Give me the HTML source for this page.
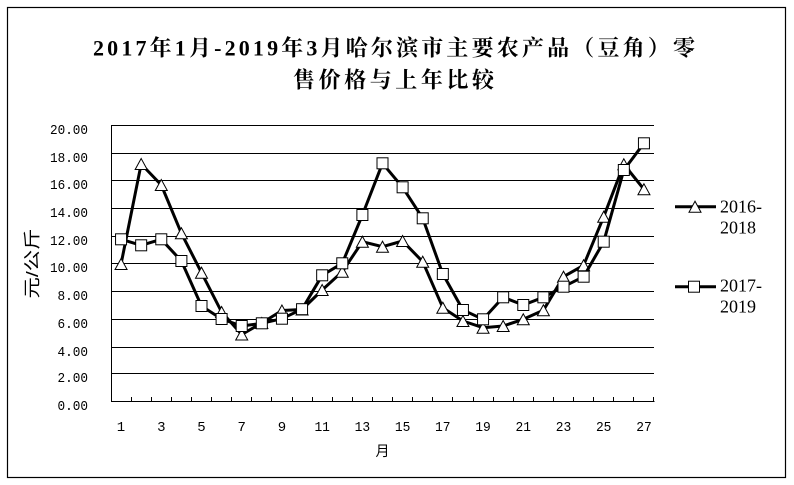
<!DOCTYPE html>
<html>
<head>
<meta charset="utf-8">
<style>
html,body{margin:0;padding:0;background:#fff;}
svg{display:block;}
.mono{font-family:"Liberation Mono","Noto Sans CJK SC",monospace;font-size:14px;fill:#000;}
</style>
</head>
<body>
<svg width="794" height="485" viewBox="0 0 794 485" xmlns="http://www.w3.org/2000/svg">
<rect x="0" y="0" width="794" height="485" fill="#fff"/>
<rect x="7.5" y="7.5" width="778" height="470" fill="none" stroke="#000" stroke-width="1.2"/>

<!-- Title -->
<text x="93" y="55.5" textLength="602" lengthAdjust="spacing" font-family="'Liberation Serif','Noto Serif CJK SC',serif" font-weight="bold" font-size="22" fill="#000">2017年1月-2019年3月哈尔滨市主要农产品（豆角）零</text>
<text x="293" y="87.5" textLength="201" lengthAdjust="spacing" font-family="'Liberation Serif','Noto Serif CJK SC',serif" font-weight="bold" font-size="22" fill="#000">售价格与上年比较</text>

<!-- Gridlines -->
<g stroke="#000" stroke-width="1" shape-rendering="crispEdges">
<line x1="111" y1="125.5" x2="654" y2="125.5"/>
<line x1="111" y1="153.5" x2="654" y2="153.5"/>
<line x1="111" y1="180.5" x2="654" y2="180.5"/>
<line x1="111" y1="208.5" x2="654" y2="208.5"/>
<line x1="111" y1="236.5" x2="654" y2="236.5"/>
<line x1="111" y1="263.5" x2="654" y2="263.5"/>
<line x1="111" y1="291.5" x2="654" y2="291.5"/>
<line x1="111" y1="319.5" x2="654" y2="319.5"/>
<line x1="111" y1="347.5" x2="654" y2="347.5"/>
<line x1="111" y1="373.5" x2="654" y2="373.5"/>
<line x1="111" y1="401.5" x2="654.5" y2="401.5"/>
<line x1="111.5" y1="125" x2="111.5" y2="402"/>
</g>

<!-- X ticks -->
<g stroke="#000" stroke-width="1" shape-rendering="crispEdges">
<line x1="131.5" y1="397" x2="131.5" y2="401"/>
<line x1="151.5" y1="397" x2="151.5" y2="401"/>
<line x1="171.5" y1="397" x2="171.5" y2="401"/>
<line x1="191.5" y1="397" x2="191.5" y2="401"/>
<line x1="211.5" y1="397" x2="211.5" y2="401"/>
<line x1="231.5" y1="397" x2="231.5" y2="401"/>
<line x1="251.5" y1="397" x2="251.5" y2="401"/>
<line x1="271.5" y1="397" x2="271.5" y2="401"/>
<line x1="292.5" y1="397" x2="292.5" y2="401"/>
<line x1="312.5" y1="397" x2="312.5" y2="401"/>
<line x1="332.5" y1="397" x2="332.5" y2="401"/>
<line x1="352.5" y1="397" x2="352.5" y2="401"/>
<line x1="372.5" y1="397" x2="372.5" y2="401"/>
<line x1="392.5" y1="397" x2="392.5" y2="401"/>
<line x1="412.5" y1="397" x2="412.5" y2="401"/>
<line x1="432.5" y1="397" x2="432.5" y2="401"/>
<line x1="452.5" y1="397" x2="452.5" y2="401"/>
<line x1="473.5" y1="397" x2="473.5" y2="401"/>
<line x1="493.5" y1="397" x2="493.5" y2="401"/>
<line x1="513.5" y1="397" x2="513.5" y2="401"/>
<line x1="533.5" y1="397" x2="533.5" y2="401"/>
<line x1="553.5" y1="397" x2="553.5" y2="401"/>
<line x1="573.5" y1="397" x2="573.5" y2="401"/>
<line x1="593.5" y1="397" x2="593.5" y2="401"/>
<line x1="613.5" y1="397" x2="613.5" y2="401"/>
<line x1="633.5" y1="397" x2="633.5" y2="401"/>
<line x1="653.5" y1="397" x2="653.5" y2="401"/>
</g>

<!-- Y labels -->
<g class="mono" text-anchor="end">
<text x="88" y="134" textLength="38" lengthAdjust="spacingAndGlyphs">20.00</text>
<text x="88" y="162" textLength="38" lengthAdjust="spacingAndGlyphs">18.00</text>
<text x="88" y="189" textLength="38" lengthAdjust="spacingAndGlyphs">16.00</text>
<text x="88" y="217" textLength="38" lengthAdjust="spacingAndGlyphs">14.00</text>
<text x="88" y="245" textLength="38" lengthAdjust="spacingAndGlyphs">12.00</text>
<text x="88" y="272" textLength="38" lengthAdjust="spacingAndGlyphs">10.00</text>
<text x="88" y="300" textLength="30.5" lengthAdjust="spacingAndGlyphs">8.00</text>
<text x="88" y="328" textLength="30.5" lengthAdjust="spacingAndGlyphs">6.00</text>
<text x="88" y="356" textLength="30.5" lengthAdjust="spacingAndGlyphs">4.00</text>
<text x="88" y="382" textLength="30.5" lengthAdjust="spacingAndGlyphs">2.00</text>
<text x="88" y="410" textLength="30.5" lengthAdjust="spacingAndGlyphs">0.00</text>
</g>

<!-- X labels -->
<g class="mono" text-anchor="middle">
<text x="121" y="431">1</text>
<text x="161.3" y="431">3</text>
<text x="201.5" y="431">5</text>
<text x="241.7" y="431">7</text>
<text x="282" y="431">9</text>
<text x="322.2" y="431" textLength="15.5" lengthAdjust="spacingAndGlyphs">11</text>
<text x="362.4" y="431" textLength="15.5" lengthAdjust="spacingAndGlyphs">13</text>
<text x="402.6" y="431" textLength="15.5" lengthAdjust="spacingAndGlyphs">15</text>
<text x="442.8" y="431" textLength="15.5" lengthAdjust="spacingAndGlyphs">17</text>
<text x="483" y="431" textLength="15.5" lengthAdjust="spacingAndGlyphs">19</text>
<text x="523.3" y="431" textLength="15.5" lengthAdjust="spacingAndGlyphs">21</text>
<text x="563.5" y="431" textLength="15.5" lengthAdjust="spacingAndGlyphs">23</text>
<text x="603.7" y="431" textLength="15.5" lengthAdjust="spacingAndGlyphs">25</text>
<text x="644" y="431" textLength="15.5" lengthAdjust="spacingAndGlyphs">27</text>
</g>

<!-- Axis titles -->
<text x="382.5" y="456" text-anchor="middle" font-family="'Liberation Sans','Noto Sans CJK SC',sans-serif" font-size="14" fill="#000">月</text>
<text transform="translate(38,263.5) rotate(-90)" text-anchor="middle" font-family="'Liberation Sans','Noto Sans CJK SC',sans-serif" font-size="17" fill="#000" textLength="70" lengthAdjust="spacingAndGlyphs">元/公斤</text>

<!-- Series 2016-2018 (triangles) -->
<polyline fill="none" stroke="#000" stroke-width="3" stroke-linejoin="round" stroke-linecap="round"
points="121.06,264 141.17,164 161.28,185 181.39,233.3 201.5,272.7 221.61,312 241.72,334.5 261.83,323 281.94,310.5 302.06,309.5 322.17,290 342.28,271.7 362.39,241.7 382.5,246.7 402.61,241 422.72,261.7 442.83,307.7 462.94,321 483.06,327.7 503.17,326 523.28,319.3 543.39,310.3 563.5,276.7 583.61,265.3 603.72,216.7 623.83,164.3 643.94,189.3"/>
<g fill="#fff" stroke="#000" stroke-width="1">
<polygon points="121.06,258.5 115.06,269.5 127.06,269.5"/>
<polygon points="141.17,158.5 135.17,169.5 147.17,169.5"/>
<polygon points="161.28,179.5 155.28,190.5 167.28,190.5"/>
<polygon points="181.39,227.8 175.39,238.8 187.39,238.8"/>
<polygon points="201.5,267.2 195.5,278.2 207.5,278.2"/>
<polygon points="221.61,306.5 215.61,317.5 227.61,317.5"/>
<polygon points="241.72,329 235.72,340 247.72,340"/>
<polygon points="261.83,317.5 255.83,328.5 267.83,328.5"/>
<polygon points="281.94,305 275.94,316 287.94,316"/>
<polygon points="302.06,304 296.06,315 308.06,315"/>
<polygon points="322.17,284.5 316.17,295.5 328.17,295.5"/>
<polygon points="342.28,266.2 336.28,277.2 348.28,277.2"/>
<polygon points="362.39,236.2 356.39,247.2 368.39,247.2"/>
<polygon points="382.5,241.2 376.5,252.2 388.5,252.2"/>
<polygon points="402.61,235.5 396.61,246.5 408.61,246.5"/>
<polygon points="422.72,256.2 416.72,267.2 428.72,267.2"/>
<polygon points="442.83,302.2 436.83,313.2 448.83,313.2"/>
<polygon points="462.94,315.5 456.94,326.5 468.94,326.5"/>
<polygon points="483.06,322.2 477.06,333.2 489.06,333.2"/>
<polygon points="503.17,320.5 497.17,331.5 509.17,331.5"/>
<polygon points="523.28,313.8 517.28,324.8 529.28,324.8"/>
<polygon points="543.39,304.8 537.39,315.8 549.39,315.8"/>
<polygon points="563.5,271.2 557.5,282.2 569.5,282.2"/>
<polygon points="583.61,259.8 577.61,270.8 589.61,270.8"/>
<polygon points="603.72,211.2 597.72,222.2 609.72,222.2"/>
<polygon points="623.83,158.8 617.83,169.8 629.83,169.8"/>
<polygon points="643.94,183.8 637.94,194.8 649.94,194.8"/>
</g>

<!-- Series 2017-2019 (squares) -->
<polyline fill="none" stroke="#000" stroke-width="3" stroke-linejoin="round" stroke-linecap="round"
points="121.06,239.3 141.17,245.3 161.28,239.3 181.39,261 201.5,306 221.61,319 241.72,326 261.83,323.3 281.94,318.7 302.06,309.2 322.17,275.3 342.28,263.3 362.39,215 382.5,163.3 402.61,187.3 422.72,218.3 442.83,274 462.94,310 483.06,319.3 503.17,297.3 523.28,305 543.39,297.3 563.5,286.7 583.61,276.7 603.72,241.7 623.83,170 643.94,143.3"/>
<g fill="#fff" stroke="#000" stroke-width="1">
<rect x="115.56" y="233.8" width="11" height="11"/>
<rect x="135.67" y="239.8" width="11" height="11"/>
<rect x="155.78" y="233.8" width="11" height="11"/>
<rect x="175.89" y="255.5" width="11" height="11"/>
<rect x="196" y="300.5" width="11" height="11"/>
<rect x="216.11" y="313.5" width="11" height="11"/>
<rect x="236.22" y="320.5" width="11" height="11"/>
<rect x="256.33" y="317.8" width="11" height="11"/>
<rect x="276.44" y="313.2" width="11" height="11"/>
<rect x="296.56" y="303.7" width="11" height="11"/>
<rect x="316.67" y="269.8" width="11" height="11"/>
<rect x="336.78" y="257.8" width="11" height="11"/>
<rect x="356.89" y="209.5" width="11" height="11"/>
<rect x="377" y="157.8" width="11" height="11"/>
<rect x="397.11" y="181.8" width="11" height="11"/>
<rect x="417.22" y="212.8" width="11" height="11"/>
<rect x="437.33" y="268.5" width="11" height="11"/>
<rect x="457.44" y="304.5" width="11" height="11"/>
<rect x="477.56" y="313.8" width="11" height="11"/>
<rect x="497.67" y="291.8" width="11" height="11"/>
<rect x="517.78" y="299.5" width="11" height="11"/>
<rect x="537.89" y="291.8" width="11" height="11"/>
<rect x="558" y="281.2" width="11" height="11"/>
<rect x="578.11" y="271.2" width="11" height="11"/>
<rect x="598.22" y="236.2" width="11" height="11"/>
<rect x="618.33" y="164.5" width="11" height="11"/>
<rect x="638.44" y="137.8" width="11" height="11"/>
</g>

<!-- Legend -->
<line x1="675" y1="206.7" x2="716" y2="206.7" stroke="#000" stroke-width="3"/>
<polygon points="695,201.2 689,212.2 701,212.2" fill="#fff" stroke="#000" stroke-width="1"/>
<line x1="675" y1="286.7" x2="716" y2="286.7" stroke="#000" stroke-width="3"/>
<rect x="688.5" y="281.2" width="11" height="11" fill="#fff" stroke="#000" stroke-width="1"/>
<g font-family="'Liberation Serif','Noto Serif CJK SC',serif" font-size="18" fill="#000">
<text x="720" y="212.5">2016-</text>
<text x="720" y="233.3">2018</text>
<text x="720" y="291.7">2017-</text>
<text x="720" y="312.7">2019</text>
</g>
</svg>
</body>
</html>
